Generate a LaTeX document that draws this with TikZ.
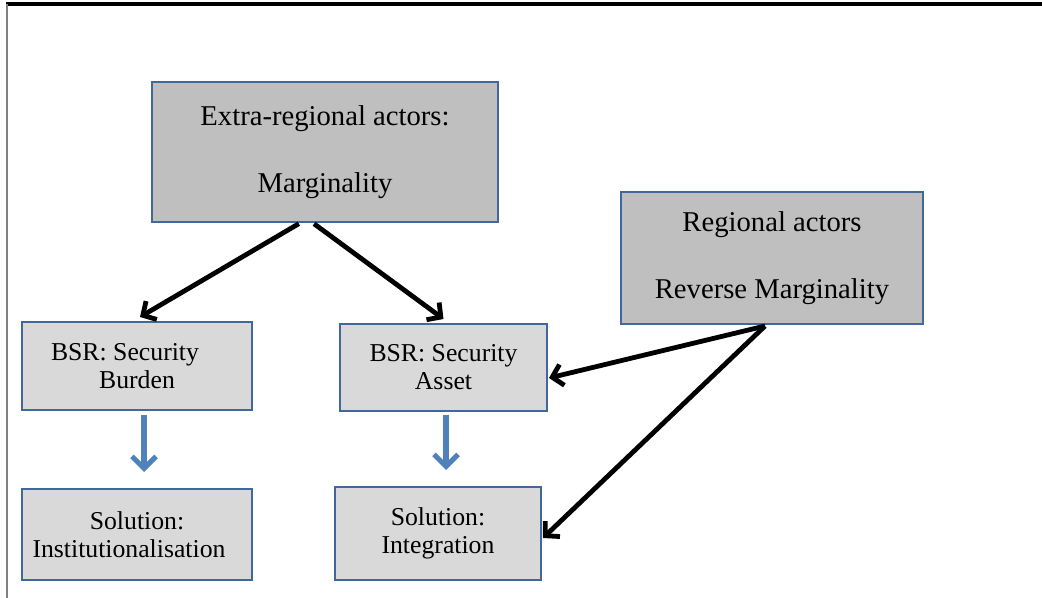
\documentclass[tikz,border=0pt]{standalone}
\usepackage{fontspec}
\setmainfont{Liberation Serif}
\usetikzlibrary{arrows.meta,calc}
\definecolor{bordc}{HTML}{41689A}
\definecolor{darkfill}{HTML}{BFBFBF}
\definecolor{lightfill}{HTML}{D9D9D9}
\definecolor{bluearr}{HTML}{4F81BD}
\begin{document}
\begin{tikzpicture}[x=0.75pt,y=-0.75pt,
  bigbox/.style={draw=bordc,line width=1.5pt,fill=darkfill,inner sep=0pt,align=center,
    font=\fontsize{21.5}{50}\selectfont},
  smallbox/.style={draw=bordc,line width=1.5pt,fill=lightfill,inner sep=0pt,align=center,
    font=\fontsize{19.3}{21}\selectfont},
  blackarr/.style={line width=3.6pt,black,-{Straight Barb[length=7.5pt,width=16pt]}},
  bluearrow/.style={line width=3.8pt,bluearr,-{Straight Barb[length=9pt,width=18pt]}}]
\useasboundingbox (0,0) rectangle (1042,598);
% frame
\draw[line width=2.5pt,black] (6,4) -- (1042,4);
\draw[line width=1.5pt,gray] (7,4) -- (7,598);
% boxes
\node[bigbox,minimum width=259.5pt,minimum height=105pt] (ext) at (325,152)
  {Extra-regional actors:\\Marginality};
\node[bigbox,minimum width=226.5pt,minimum height=99pt] (reg) at (772,258)
  {Regional actors\\Reverse Marginality};
\node[smallbox,minimum width=172.5pt,minimum height=66pt] (burden) at (137,366)
  {BSR: Security\hspace*{18pt}\\Burden};
\node[smallbox,minimum width=155.25pt,minimum height=65.25pt] (asset) at (443.5,367.5)
  {BSR: Security\\Asset};
\node[smallbox,minimum width=172.5pt,minimum height=68.25pt] (inst) at (137,534.5)
  {Solution:\\Institutionalisation\hspace*{12pt}};
\node[smallbox,minimum width=154.5pt,minimum height=69.75pt] (integ) at (438,533.5)
  {Solution:\\Integration};
% black arrows
\draw[blackarr,shorten <=1pt] ($(ext.south)+(-25,0)$) -- ($(burden.north)+(3,-4)$);
\draw[blackarr,shorten <=1pt] ($(ext.south)+(-12,0)$) -- ($(asset.north)+(0,-4)$);
\draw[blackarr] ($(reg.south)+(-7,1)$) -- ($(asset.east)+(1,10.5)$);
\draw[blackarr] ($(reg.south)+(-7,1)$) -- ($(integ.east)+(1,4.5)$);
% blue arrows
\draw[bluearrow,shorten <=3pt,shorten >=12pt] ($(burden.south)+(7,0)$) -- ($(inst.north)+(7,0)$);
\draw[bluearrow,shorten <=2pt,shorten >=12pt] ($(asset.south)+(2.5,0)$) -- ($(integ.north)+(8,0)$);
\end{tikzpicture}
\end{document}
